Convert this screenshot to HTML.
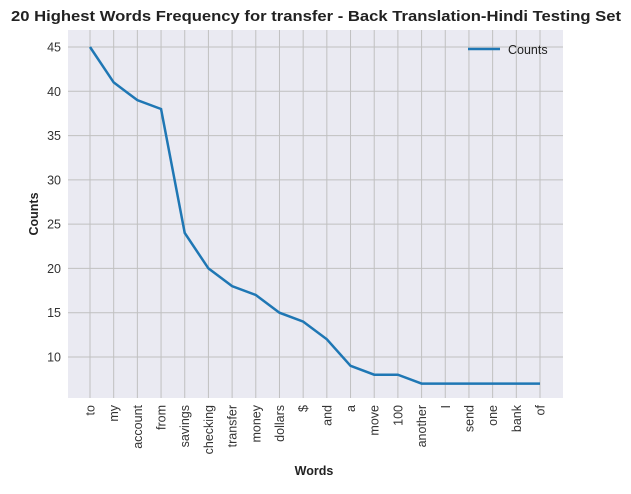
<!DOCTYPE html>
<html><head><meta charset="utf-8"><style>
body{margin:0;background:#fff;font-family:"Liberation Sans",Arial,sans-serif}
</style></head><body>
<svg width="631" height="489" xmlns="http://www.w3.org/2000/svg">
<text x="316" y="21" text-anchor="middle" font-size="15" font-weight="bold" fill="#222" textLength="610" lengthAdjust="spacingAndGlyphs">20 Highest Words Frequency for transfer - Back Translation-Hindi Testing Set</text>
<rect x="68" y="30" width="495" height="368" fill="#eaeaf2"/>
<g id="grid"></g><g id="ticks"></g>
<polyline id="line" fill="none" stroke="#1f77b4" stroke-width="2.5"/>
<g>
<line x1="468" y1="49" x2="500" y2="49" stroke="#1f77b4" stroke-width="2.5"/>
<text x="508" y="54" font-size="12.5" fill="#222">Counts</text>
</g>
<text x="314" y="475" text-anchor="middle" font-size="12.5" font-weight="bold" fill="#222">Words</text>
<text transform="translate(38,214) rotate(-90)" text-anchor="middle" font-size="12.5" font-weight="bold" fill="#222">Counts</text>
</svg>
<script>
const words=["to","my","account","from","savings","checking","transfer","money","dollars","$","and","a","move","100","another","I","send","one","bank","of"];
const counts=[45,41,39,38,24,20,18,17,15,14,12,9,8,8,7,7,7,7,7,7];
const yTicks=[10,15,20,25,30,35,40,45];
const NS="http://www.w3.org/2000/svg";
const x=i=>90+i*(540-90)/(words.length-1);
const y=v=>357-(v-10)*8.857;
const grid=document.getElementById('grid'),ticks=document.getElementById('ticks');
function mk(tag,a,p){const e=document.createElementNS(NS,tag);for(const k in a)e.setAttribute(k,a[k]);p.appendChild(e);return e;}
yTicks.forEach(v=>{
 const l=mk('line',{x1:68,x2:563,y1:y(v),y2:y(v),stroke:'#c0c0c0','stroke-width':1},grid);
 
 
 const t=mk('text',{x:61,y:y(v)+4.5,'text-anchor':'end','font-size':12.5,fill:'#333'},ticks);
 t.textContent=v;
 
 
});
words.forEach((w,i)=>{
 const l=mk('line',{x1:x(i),x2:x(i),y1:30,y2:398,stroke:'#c0c0c0','stroke-width':1},grid);
 
 
 const t=mk('text',{transform:`translate(${x(i)+4.5},405) rotate(-90)`,'text-anchor':'end','font-size':12.5,fill:'#333'},ticks);
 t.textContent=w;
 
 
});
document.getElementById('line').setAttribute('points',counts.map((c,i)=>x(i)+','+y(c)).join(' '));
</script>
</body></html>
